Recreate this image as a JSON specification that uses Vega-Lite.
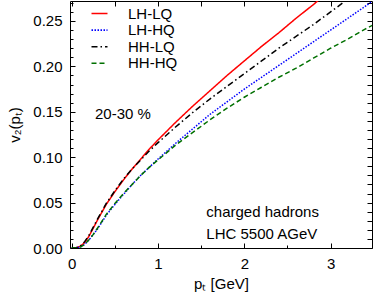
{
  "$schema": "https://vega.github.io/schema/vega-lite/v6.json",
  "autosize": "none",
  "width": 302,
  "height": 247,
  "padding": {"left": 70, "top": 1, "right": 2, "bottom": 51},
  "background": "white",
  "config": {
    "font": "Liberation Sans",
    "view": {"stroke": "black", "strokeWidth": 1},
    "axis": {"grid": false, "domain": false, "labelFont": "Liberation Sans", "titleFont": "Liberation Sans", "labelFontSize": 15, "titleFontSize": 15, "titleFontWeight": "normal", "labelColor": "black", "titleColor": "black", "tickColor": "black", "tickSize": -5, "tickWidth": 1}
  },
  "datasets": {
    "curves": [
      {"s":"LH-LQ","pT":0,"v2":0},{"s":"LH-LQ","pT":0.05,"v2":0.0002},{"s":"LH-LQ","pT":0.1,"v2":0.002},{"s":"LH-LQ","pT":0.15,"v2":0.006},{"s":"LH-LQ","pT":0.2,"v2":0.013},{"s":"LH-LQ","pT":0.25,"v2":0.022},{"s":"LH-LQ","pT":0.3,"v2":0.031},{"s":"LH-LQ","pT":0.4,"v2":0.048},{"s":"LH-LQ","pT":0.5,"v2":0.062},{"s":"LH-LQ","pT":0.6,"v2":0.075},{"s":"LH-LQ","pT":0.7,"v2":0.087},{"s":"LH-LQ","pT":0.8,"v2":0.098},{"s":"LH-LQ","pT":0.9,"v2":0.109},{"s":"LH-LQ","pT":1.0,"v2":0.119},{"s":"LH-LQ","pT":1.2,"v2":0.138},{"s":"LH-LQ","pT":1.4,"v2":0.156},{"s":"LH-LQ","pT":1.6,"v2":0.173},{"s":"LH-LQ","pT":1.8,"v2":0.190},{"s":"LH-LQ","pT":2.0,"v2":0.206},{"s":"LH-LQ","pT":2.2,"v2":0.222},{"s":"LH-LQ","pT":2.4,"v2":0.237},{"s":"LH-LQ","pT":2.6,"v2":0.253},{"s":"LH-LQ","pT":2.8,"v2":0.268},{"s":"LH-LQ","pT":3.0,"v2":0.284},
      {"s":"LH-HQ","pT":0,"v2":0},{"s":"LH-HQ","pT":0.05,"v2":0.0001},{"s":"LH-HQ","pT":0.1,"v2":0.001},{"s":"LH-HQ","pT":0.15,"v2":0.004},{"s":"LH-HQ","pT":0.2,"v2":0.009},{"s":"LH-HQ","pT":0.25,"v2":0.015},{"s":"LH-HQ","pT":0.3,"v2":0.021},{"s":"LH-HQ","pT":0.4,"v2":0.036},{"s":"LH-HQ","pT":0.5,"v2":0.048},{"s":"LH-HQ","pT":0.6,"v2":0.059},{"s":"LH-HQ","pT":0.7,"v2":0.070},{"s":"LH-HQ","pT":0.8,"v2":0.080},{"s":"LH-HQ","pT":0.9,"v2":0.089},{"s":"LH-HQ","pT":1.0,"v2":0.098},{"s":"LH-HQ","pT":1.2,"v2":0.115},{"s":"LH-HQ","pT":1.4,"v2":0.131},{"s":"LH-HQ","pT":1.6,"v2":0.147},{"s":"LH-HQ","pT":1.8,"v2":0.161},{"s":"LH-HQ","pT":2.0,"v2":0.175},{"s":"LH-HQ","pT":2.2,"v2":0.188},{"s":"LH-HQ","pT":2.4,"v2":0.201},{"s":"LH-HQ","pT":2.6,"v2":0.214},{"s":"LH-HQ","pT":2.8,"v2":0.227},{"s":"LH-HQ","pT":3.0,"v2":0.240},{"s":"LH-HQ","pT":3.2,"v2":0.253},{"s":"LH-HQ","pT":3.4,"v2":0.266},{"s":"LH-HQ","pT":3.5,"v2":0.273},
      {"s":"HH-LQ","pT":0,"v2":0},{"s":"HH-LQ","pT":0.05,"v2":0.0002},{"s":"HH-LQ","pT":0.1,"v2":0.002},{"s":"HH-LQ","pT":0.15,"v2":0.007},{"s":"HH-LQ","pT":0.2,"v2":0.014},{"s":"HH-LQ","pT":0.25,"v2":0.023},{"s":"HH-LQ","pT":0.3,"v2":0.032},{"s":"HH-LQ","pT":0.4,"v2":0.049},{"s":"HH-LQ","pT":0.5,"v2":0.063},{"s":"HH-LQ","pT":0.6,"v2":0.076},{"s":"HH-LQ","pT":0.7,"v2":0.087},{"s":"HH-LQ","pT":0.8,"v2":0.097},{"s":"HH-LQ","pT":0.9,"v2":0.107},{"s":"HH-LQ","pT":1.0,"v2":0.116},{"s":"HH-LQ","pT":1.2,"v2":0.133},{"s":"HH-LQ","pT":1.4,"v2":0.149},{"s":"HH-LQ","pT":1.6,"v2":0.164},{"s":"HH-LQ","pT":1.8,"v2":0.178},{"s":"HH-LQ","pT":2.0,"v2":0.192},{"s":"HH-LQ","pT":2.2,"v2":0.206},{"s":"HH-LQ","pT":2.4,"v2":0.220},{"s":"HH-LQ","pT":2.6,"v2":0.233},{"s":"HH-LQ","pT":2.8,"v2":0.246},{"s":"HH-LQ","pT":3.0,"v2":0.260},{"s":"HH-LQ","pT":3.2,"v2":0.274},{"s":"HH-LQ","pT":3.4,"v2":0.288},
      {"s":"HH-HQ","pT":0,"v2":0},{"s":"HH-HQ","pT":0.05,"v2":0.0001},{"s":"HH-HQ","pT":0.1,"v2":0.001},{"s":"HH-HQ","pT":0.15,"v2":0.004},{"s":"HH-HQ","pT":0.2,"v2":0.009},{"s":"HH-HQ","pT":0.25,"v2":0.015},{"s":"HH-HQ","pT":0.3,"v2":0.022},{"s":"HH-HQ","pT":0.4,"v2":0.037},{"s":"HH-HQ","pT":0.5,"v2":0.049},{"s":"HH-HQ","pT":0.6,"v2":0.060},{"s":"HH-HQ","pT":0.7,"v2":0.070},{"s":"HH-HQ","pT":0.8,"v2":0.080},{"s":"HH-HQ","pT":0.9,"v2":0.089},{"s":"HH-HQ","pT":1.0,"v2":0.097},{"s":"HH-HQ","pT":1.2,"v2":0.113},{"s":"HH-HQ","pT":1.4,"v2":0.127},{"s":"HH-HQ","pT":1.6,"v2":0.141},{"s":"HH-HQ","pT":1.8,"v2":0.154},{"s":"HH-HQ","pT":2.0,"v2":0.166},{"s":"HH-HQ","pT":2.2,"v2":0.177},{"s":"HH-HQ","pT":2.4,"v2":0.188},{"s":"HH-HQ","pT":2.6,"v2":0.198},{"s":"HH-HQ","pT":2.8,"v2":0.209},{"s":"HH-HQ","pT":3.0,"v2":0.220},{"s":"HH-HQ","pT":3.2,"v2":0.230},{"s":"HH-HQ","pT":3.4,"v2":0.241},{"s":"HH-HQ","pT":3.5,"v2":0.246}
    ],
    "notes": [
      {"t":"20-30 %","pT":0.27,"v2":0.148},
      {"t":"charged hadrons","pT":1.56,"v2":0.0396},
      {"t":"LHC 5500 AGeV","pT":1.56,"v2":0.0158}
    ]
  },
  "layer": [
    {
      "data": {"name": "curves"},
      "mark": {"type": "line", "clip": true, "strokeWidth": 1.5},
      "encoding": {
        "x": {"field": "pT", "type": "quantitative", "scale": {"domain": [-0.02, 3.48], "nice": false, "zero": false},
              "axis": {"orient": "bottom", "values": [0, 1, 2, 3], "title": "pₜ [GeV]", "labelPadding": 13, "titlePadding": 5, "format": "d"}},
        "y": {"field": "v2", "type": "quantitative", "scale": {"domain": [0, 0.272], "nice": false},
              "axis": {"orient": "left", "values": [0, 0.05, 0.1, 0.15, 0.2, 0.25], "format": ".2f", "title": "v₂(pₜ)", "labelPadding": 13, "titlePadding": 10}},
        "color": {"field": "s", "type": "nominal", "sort": ["LH-LQ","LH-HQ","HH-LQ","HH-HQ"],
                  "scale": {"domain": ["LH-LQ","LH-HQ","HH-LQ","HH-HQ"], "range": ["#ff0000","#0000ff","#000000","#007000"]},
                  "legend": {"orient": "none", "legendX": 22, "legendY": 5, "title": null, "symbolType": "M-2,0H2", "symbolSize": 64, "symbolStrokeWidth": 1.6, "labelFontSize": 15, "labelFont": "Liberation Sans", "labelColor": "black", "labelOffset": 21, "rowPadding": 0.6, "padding": 0}},
        "strokeDash": {"field": "s", "type": "nominal", "sort": ["LH-LQ","LH-HQ","HH-LQ","HH-HQ"],
                  "scale": {"domain": ["LH-LQ","LH-HQ","HH-LQ","HH-HQ"], "range": [[1,0],[1.5,1.5],[6,3,1.5,3],[5,3]]},
                  "legend": {"orient": "none", "legendX": 22, "legendY": 5, "title": null, "symbolType": "M-2,0H2", "symbolSize": 64, "symbolStrokeWidth": 1.6, "labelFontSize": 15, "labelFont": "Liberation Sans", "labelColor": "black", "labelOffset": 21, "rowPadding": 0.6, "padding": 0}}
      }
    },
    {
      "data": {"name": "notes"},
      "mark": {"type": "text", "align": "left", "baseline": "middle", "fontSize": 15, "font": "Liberation Sans", "color": "black"},
      "encoding": {
        "x": {"field": "pT", "type": "quantitative", "axis": {"orient": "top", "labels": false, "title": null, "values": [0, 0.5, 1, 1.5, 2, 2.5, 3]}},
        "y": {"field": "v2", "type": "quantitative", "axis": {"orient": "right", "labels": false, "title": null, "values": [0,0.01,0.02,0.03,0.04,0.05,0.06,0.07,0.08,0.09,0.1,0.11,0.12,0.13,0.14,0.15,0.16,0.17,0.18,0.19,0.2,0.21,0.22,0.23,0.24,0.25,0.26,0.27]}},
        "text": {"field": "t", "type": "nominal"}
      }
    },
    {
      "data": {"name": "notes"},
      "mark": {"type": "point", "opacity": 0},
      "encoding": {
        "x": {"field": "pT", "type": "quantitative", "axis": {"orient": "bottom", "labels": false, "title": null, "tickSize": -3, "values": [0.5, 1.5, 2.5]}},
        "y": {"field": "v2", "type": "quantitative", "axis": {"orient": "left", "labels": false, "title": null, "tickSize": -3, "values": [0.01,0.02,0.03,0.04,0.06,0.07,0.08,0.09,0.11,0.12,0.13,0.14,0.16,0.17,0.18,0.19,0.21,0.22,0.23,0.24,0.26,0.27]}}
      }
    }
  ],
  "resolve": {"axis": {"x": "independent", "y": "independent"}}
}
